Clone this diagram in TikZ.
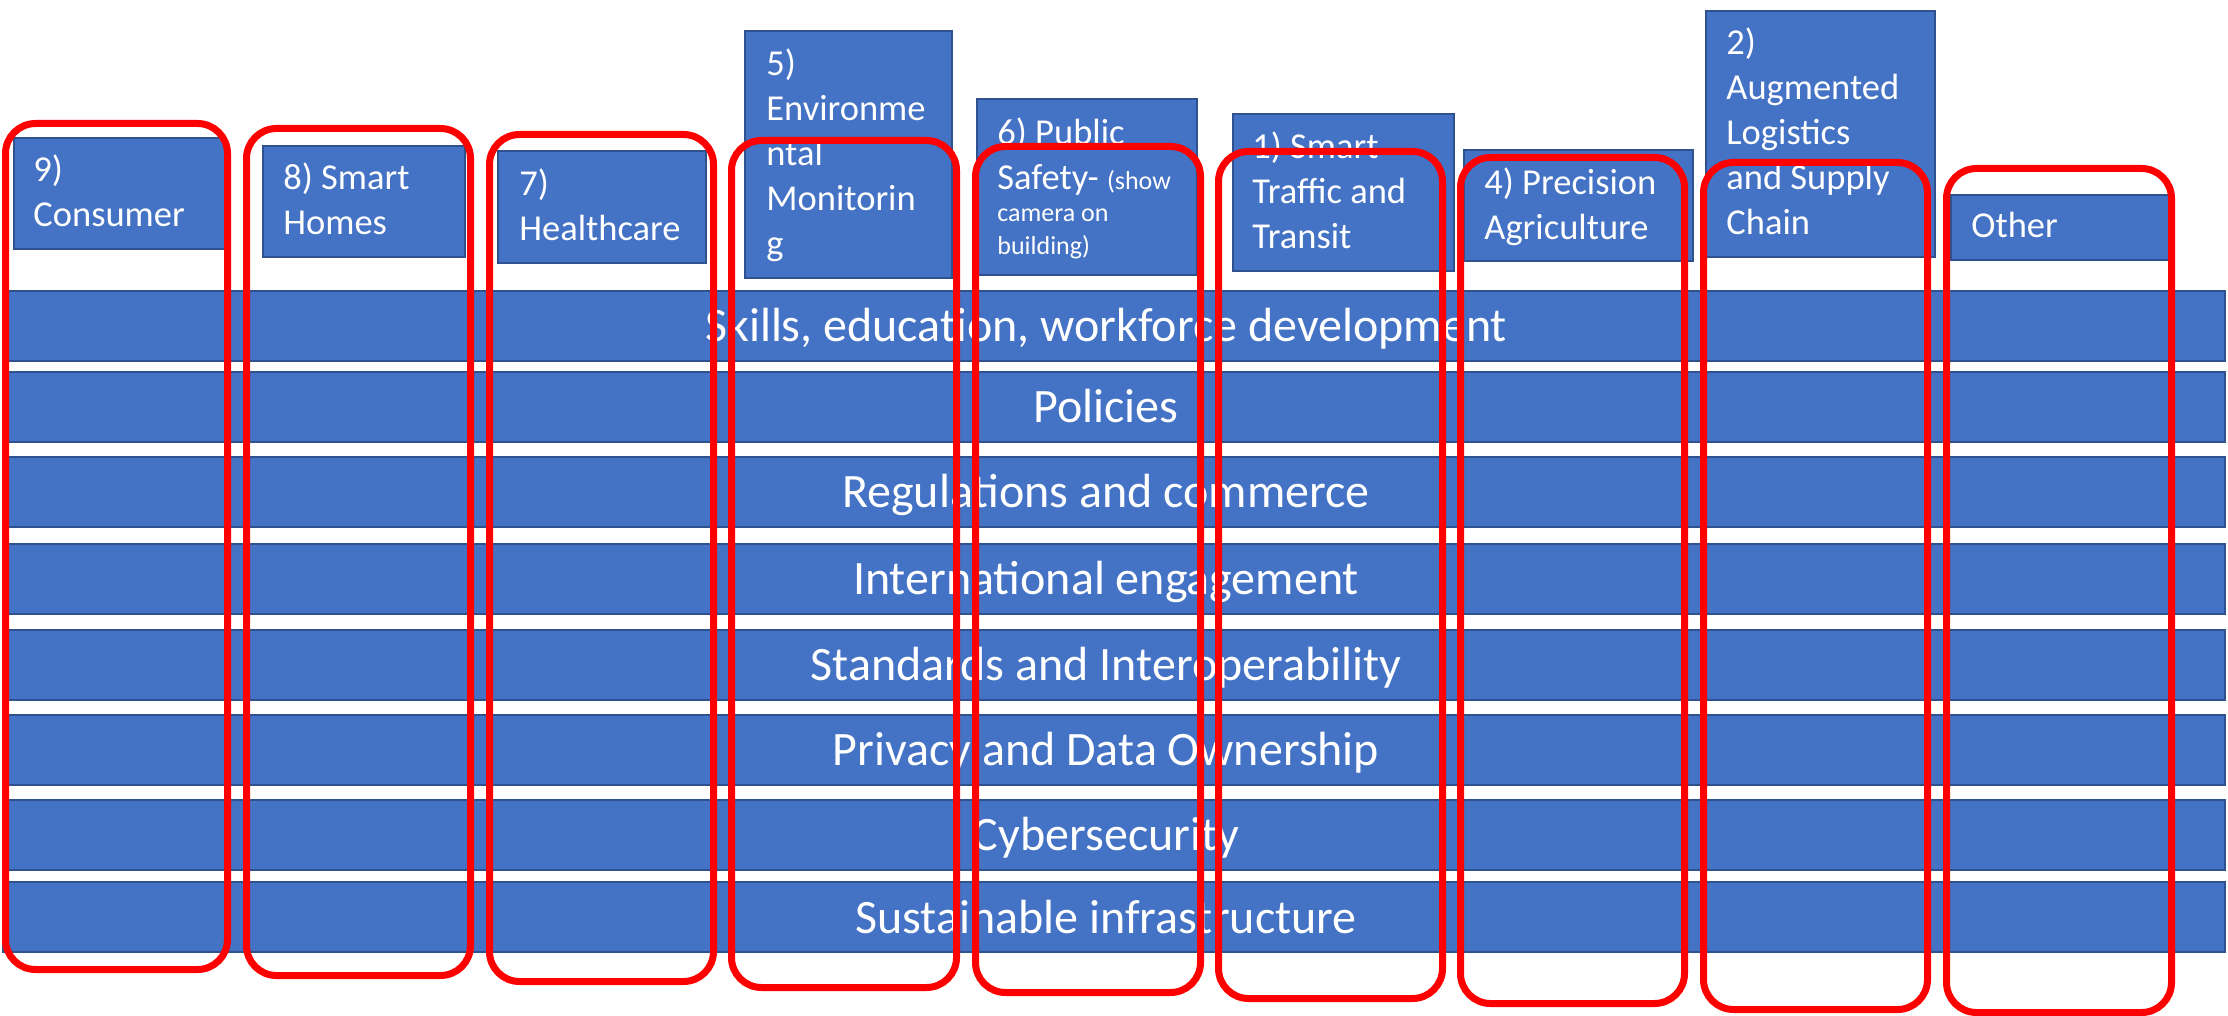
\documentclass[tikz,border=0pt]{standalone}
\usepackage{fontspec}
\setmainfont{Carlito}
\definecolor{boxblue}{HTML}{4472C4}
\definecolor{boxline}{HTML}{2F528F}
\definecolor{framered}{HTML}{FF0000}
\begin{document}
\begin{tikzpicture}[x=0.5pt,y=-0.5pt,
  bandbox/.style={draw=boxline,fill=boxblue,line width=1pt,inner sep=0pt,outer sep=0pt,anchor=north west,minimum width=1111pt,minimum height=35pt},
  bandtext/.style={text=white,anchor=base,inner sep=0pt,font=\fontsize{24}{29}\selectfont},
  catbox/.style={draw=boxline,fill=boxblue,line width=1pt,inner sep=0pt,outer sep=0pt,anchor=north west},
  cattext/.style={text=white,anchor=base west,inner sep=0pt,align=flush left,text width=200pt,font=\fontsize{18.25}{22.5}\selectfont},
  frame/.style={draw=framered,line width=3.5pt,rounded corners=15pt}]
\useasboundingbox (0,0) rectangle (2228,1016);
% horizontal bands
\node[bandbox] (band1) at (3,291) {};
\node[bandbox] (band2) at (3,372) {};
\node[bandbox] (band3) at (3,457) {};
\node[bandbox] (band4) at (3,544) {};
\node[bandbox] (band5) at (3,630) {};
\node[bandbox] (band6) at (3,715) {};
\node[bandbox] (band7) at (3,800) {};
\node[bandbox] (band8) at (3,882) {};
\node[bandtext] (lab1) at (1106,341.5) {Skills, education, workforce development};
\node[bandtext] (lab2) at (1106,422.5) {Policies};
\node[bandtext] (lab3) at (1106,507.5) {Regulations and commerce};
\node[bandtext] (lab4) at (1106,594.5) {International engagement};
\node[bandtext] (lab5) at (1106,680.5) {Standards and Interoperability};
\node[bandtext] (lab6) at (1106,765.5) {Privacy and Data Ownership};
\node[bandtext] (lab7) at (1106,850.5) {Cybersecurity};
\node[bandtext] (lab8) at (1106,933) {Sustainable infrastructure};
% category boxes
\node[catbox,minimum width=106pt,minimum height=55.5pt] (c9) at (14,138) {};
\node[catbox,minimum width=101pt,minimum height=55.5pt] (c8) at (263,146) {};
\node[catbox,minimum width=104pt,minimum height=56pt] (c7) at (498,151) {};
\node[catbox,minimum width=103.5pt,minimum height=123.5pt] (c5) at (745,31) {};
\node[catbox,minimum width=110pt,minimum height=88pt] (c6) at (977,99) {};
\node[catbox,minimum width=110.5pt,minimum height=78.5pt] (c1) at (1233,114) {};
\node[catbox,minimum width=114.5pt,minimum height=55.5pt] (c4) at (1464,150) {};
\node[catbox,minimum width=114.5pt,minimum height=123pt] (c2) at (1706,11) {};
\node[catbox,minimum width=109.5pt,minimum height=32.5pt] (co) at (1951,195) {};
\node[cattext] (t9) at (33,182) {9)\\Consumer};
\node[cattext] (t8) at (283,190) {8) Smart\\Homes};
\node[cattext] (t7) at (519,196) {7)\\Healthcare};
\node[cattext] (t5) at (766,76) {5)\\Environme\\ntal\\Monitorin\\g};
\node[cattext] (t6) at (997,145) {\lineskiplimit=-100pt\relax 6) Public\\[6pt]Safety- {\fontsize{13}{16.25}\selectfont(show\\camera on\\building)\par}};
\node[cattext] (t1) at (1252,158.5) {1) Smart\\Traffic and\\Transit};
\node[cattext] (t4) at (1484,194.5) {4) Precision\\Agriculture};
\node[cattext] (t2) at (1726,55) {2)\\Augmented\\Logistics\\and Supply\\Chain};
\node[cattext] (to) at (1971,238) {Other};
% red frames
\draw[frame] (5.5,123.5) rectangle (227.5,969.5);
\draw[frame] (246.5,128.5) rectangle (470.5,975.5);
\draw[frame] (489.5,134.5) rectangle (713.5,981.5);
\draw[frame] (731.5,140.5) rectangle (956.5,987.5);
\draw[frame] (975.5,146.5) rectangle (1200.5,992.5);
\draw[frame] (1218.5,151.5) rectangle (1442.5,998.5);
\draw[frame] (1460.5,157.5) rectangle (1684.5,1003.5);
\draw[frame] (1703.5,162.5) rectangle (1927.5,1009.5);
\draw[frame] (1946.5,168.5) rectangle (2171.5,1012.5);
\end{tikzpicture}
\end{document}
